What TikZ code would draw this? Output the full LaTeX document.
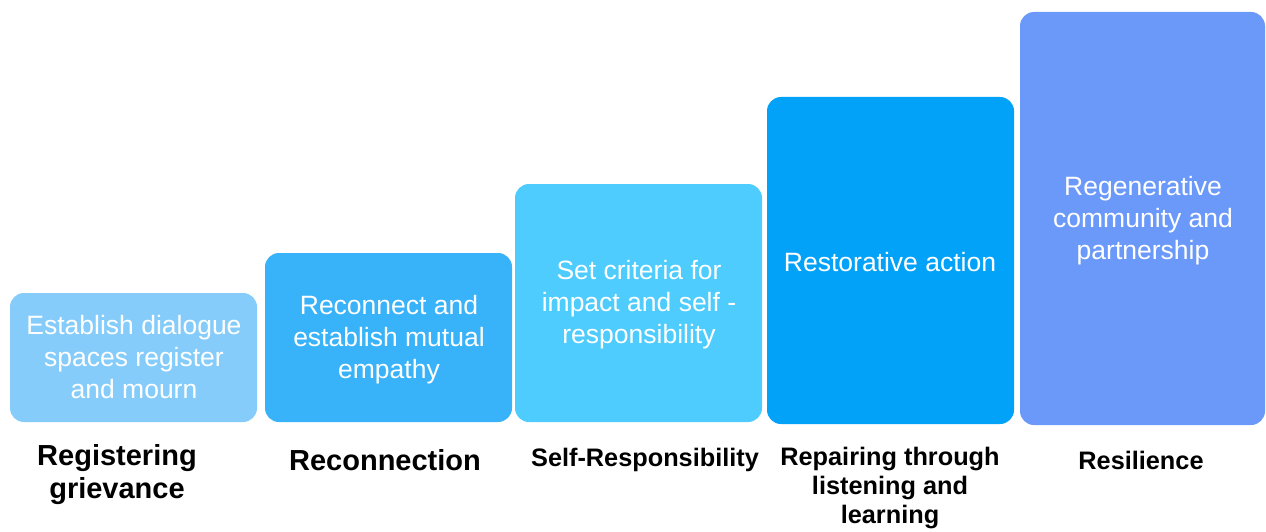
\documentclass[tikz,border=0pt]{standalone}
\usepackage{fontspec}
\setmainfont{Liberation Sans}
\definecolor{cA}{RGB}{133,204,250}
\definecolor{cB}{RGB}{56,178,248}
\definecolor{cC}{RGB}{77,204,253}
\definecolor{cD}{RGB}{3,162,249}
\definecolor{cE}{RGB}{107,153,250}
\begin{document}
\begin{tikzpicture}[x=1pt,y=-1pt,
  stepbox/.style={draw=none, text=white, align=center,
    font=\fontsize{26.5}{32}\selectfont, inner sep=0pt},
  biglab/.style={align=center, font=\bfseries\fontsize{29}{33}\selectfont, text=black},
  smalllab/.style={align=center, font=\bfseries\fontsize{25.3}{29}\selectfont, text=black}]
\useasboundingbox (0,0) rectangle (1266,532);
\fill[white] (0,0) rectangle (1266,532);
% boxes
\fill[cA, rounded corners=14pt] (10,293) rectangle (257,422);
\fill[cB, rounded corners=14pt] (265,253) rectangle (512,422);
\fill[cC, rounded corners=14pt] (515,184) rectangle (762,422);
\fill[cD, rounded corners=14pt] (767,97) rectangle (1014,424);
\fill[cE, rounded corners=14pt] (1020,12) rectangle (1265,425);
\node[stepbox] (b1) at (134,357) {Establish dialogue\\spaces register\\and mourn};
\node[stepbox] (b2) at (389,340) {Reconnect and\\establish mutual\\empathy};
\node[stepbox] (b3) at (639,305) {Set criteria for\\impact and self -\\responsibility};
\node[stepbox] (b4) at (890,262) {Restorative action};
\node[stepbox] (b5) at (1143,221) {Regenerative\\community and\\partnership};
% labels
\node[biglab] (l1) at (117,475) {Registering\\grievance};
\node[biglab] (l2) at (385,460) {Reconnection};
\node[smalllab] (l3) at (645,460) {Self-Responsibility};
\node[smalllab] (l4) at (890,488) {Repairing through\\listening and\\learning};
\node[smalllab] (l5) at (1141,460) {Resilience};
\end{tikzpicture}
\end{document}
